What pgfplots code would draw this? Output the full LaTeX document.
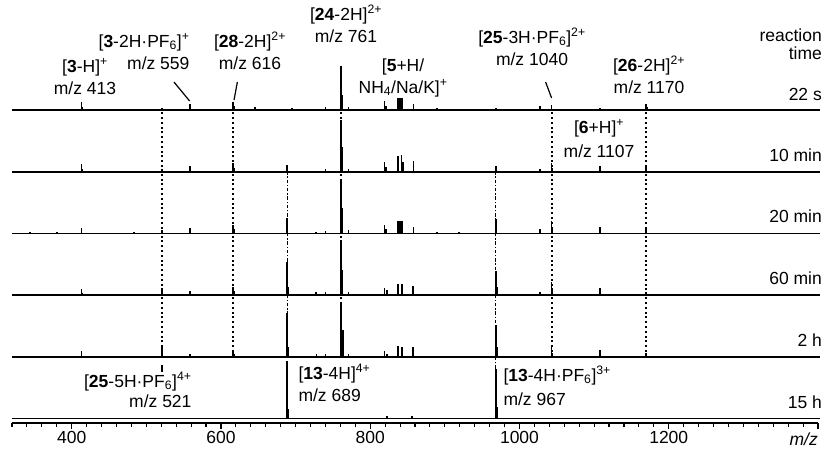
\documentclass[border=0pt]{standalone}
\usepackage{pgfplots}
\pgfplotsset{compat=1.18}
\usepackage{fontspec}
\setmainfont{Liberation Sans}
\begin{document}
\begin{tikzpicture}[font=\fontsize{17.5bp}{20bp}\selectfont]
\pgfplotsset{
  panelbase/.style={scale only axis, width=806bp, height=61.7bp, xmin=320, xmax=1400, ymin=0, ymax=61.7,
    clip=false, anchor=south west},
  panel/.style={panelbase, hide axis},
  pk/.style={ycomb, line width=1.8bp, black, mark=none},
  base/.style={line width=1.7bp, black, mark=none},
  lead/.style={line width=1.2bp, black, mark=none},
  dots/.style={black, mark=none, line width=1.9bp, dash pattern=on 2bp off 2.8bp},
  dashdots/.style={black, mark=none, line width=1.7bp, dash pattern=on 3.4bp off 1.8bp on 1.4bp off 1.8bp},
}
% ---------------- 22 s ----------------
\begin{axis}[panel, at={(12bp,-110bp)}]
\addplot[base] coordinates {(320,0)(1403,0)};
\addplot[pk] coordinates {(380,1)(413,8)(414,3)(521,2)(559,6)(616,8)(617,4)(646,3)(695,2)(711,1)(740,3)(761,44)(762,15)(771,3)(819,9)(821,4)(837,12)(840,12)(843,12)(858,6)(874,1)(890,2)(919,1)(968,2)(1028,4)(1043,5)(1108,2)(1170,6)(1171,3)};
\addplot[lead] coordinates {(537,28)(558,9)};
\addplot[lead] coordinates {(622,28)(617.5,10)};
\addplot[lead] coordinates {(1035,28)(1043,12)};
\node[anchor=base] at (axis cs:417.8,38) {[\textbf{3}-H]\textsuperscript{+}};
\node[anchor=base] at (axis cs:417.8,16) {m/z 413};
\node[anchor=base east] at (axis cs:562.5,63) {[\textbf{3}-2H·PF\textsubscript{6}]\textsuperscript{+}};
\node[anchor=base east] at (axis cs:562.5,41) {m/z 559};
\node[anchor=base] at (axis cs:638.9,63) {[\textbf{28}-2H]\textsuperscript{2+}};
\node[anchor=base] at (axis cs:638.9,41) {m/z 616};
\node[anchor=base] at (axis cs:767.6,90) {[\textbf{24}-2H]\textsuperscript{2+}};
\node[anchor=base] at (axis cs:767.6,68) {m/z 761};
\node[anchor=base] at (axis cs:844,39) {[\textbf{5}+H/};
\node[anchor=base] at (axis cs:844,17) {NH\textsubscript{4}/Na/K]\textsuperscript{+}};
\node[anchor=base] at (axis cs:1016.8,67) {[\textbf{25}-3H·PF\textsubscript{6}]\textsuperscript{2+}};
\node[anchor=base] at (axis cs:1016.8,45) {m/z 1040};
\node[anchor=base] at (axis cs:1173.6,39) {[\textbf{26}-2H]\textsuperscript{2+}};
\node[anchor=base] at (axis cs:1173.6,17) {m/z 1170};
\node[anchor=base east, inner sep=0pt] at (axis cs:1405.4,69) {reaction};
\node[anchor=base east, inner sep=0pt] at (axis cs:1405.4,51) {time};
\node[anchor=base east, inner sep=0pt] at (axis cs:1405.4,10) {22 s};
\end{axis}
% ---------------- 10 min ----------------
\begin{axis}[panel, at={(12bp,-171.7bp)}]
\addplot[dots] coordinates {(521,0)(521,61.7)};
\addplot[dots] coordinates {(616,0)(616,61.7)};
\addplot[dots] coordinates {(761,0)(761,61.7)};
\addplot[dots] coordinates {(1043,0)(1043,61.7)};
\addplot[dots] coordinates {(1170,0)(1170,61.7)};
\addplot[base] coordinates {(320,0)(1403,0)};
\addplot[pk] coordinates {(380,1)(413,8)(414,3)(521,3)(559,6)(616,9)(617,4)(646,1)(688,7)(740,3)(761,52)(762,25)(771,3)(819,10)(821,5)(837,16)(842,17)(844,10)(858,11)(890,1)(968,6)(1028,3)(1043,9)(1044,4)(1108,6)(1170,6)};
\node[anchor=base] at (axis cs:1106.6,38.7) {[\textbf{6}+H]\textsuperscript{+}};
\node[anchor=base] at (axis cs:1106.6,14.7) {m/z 1107};
\node[anchor=base east, inner sep=0pt] at (axis cs:1405.4,10.5) {10 min};
\end{axis}
% ---------------- 20 min ----------------
\begin{axis}[panel, at={(12bp,-233.4bp)}]
\addplot[dots] coordinates {(521,0)(521,61.7)};
\addplot[dots] coordinates {(616,0)(616,61.7)};
\addplot[dots] coordinates {(761,0)(761,61.7)};
\addplot[dots] coordinates {(1043,0)(1043,61.7)};
\addplot[dots] coordinates {(1170,0)(1170,61.7)};
\addplot[dashdots] coordinates {(689,0)(689,61.7)};
\addplot[dashdots] coordinates {(968,0)(968,61.7)};
\addplot[base] coordinates {(320,0)(1403,0)};
\addplot[pk] coordinates {(344,1)(380,1)(413,5)(484,1)(521,3)(559,5)(616,8)(617,4)(688,15)(689,6)(727,1)(740,2)(761,52)(762,25)(771,3)(819,8)(821,4)(837,12)(840,12)(843,12)(858,6)(890,1)(919,1)(968,14)(969,5)(1028,4)(1043,12)(1044,4)(1108,6)(1170,4)};
\node[anchor=base east, inner sep=0pt] at (axis cs:1405.4,10.5) {20 min};
\end{axis}
% ---------------- 60 min ----------------
\begin{axis}[panel, at={(12bp,-295.1bp)}]
\addplot[dots] coordinates {(521,0)(521,61.7)};
\addplot[dots] coordinates {(616,0)(616,61.7)};
\addplot[dots] coordinates {(761,0)(761,61.7)};
\addplot[dots] coordinates {(1043,0)(1043,61.7)};
\addplot[dots] coordinates {(1170,0)(1170,61.7)};
\addplot[dashdots] coordinates {(689,0)(689,61.7)};
\addplot[dashdots] coordinates {(968,0)(968,61.7)};
\addplot[base] coordinates {(320,0)(1403,0)};
\addplot[pk] coordinates {(344,1)(380,1)(413,6)(414,2)(521,7)(548,1)(559,4)(616,8)(617,4)(636,1)(661,1)(689,33)(690,8)(727,3)(740,3)(761,53)(762,25)(771,3)(779,1)(819,7)(822,5)(837,11)(843,11)(857,9)(858,9)(894,1)(919,1)(968,24)(970,8)(1028,3)(1043,13)(1044,5)(1108,7)(1170,3)};
\node[anchor=base east, inner sep=0pt] at (axis cs:1405.4,10.5) {60 min};
\end{axis}
% ---------------- 2 h ----------------
\begin{axis}[panel, at={(12bp,-356.8bp)}]
\addplot[dots] coordinates {(521,0)(521,61.7)};
\addplot[dots] coordinates {(616,0)(616,61.7)};
\addplot[dots] coordinates {(761,0)(761,61.7)};
\addplot[dots] coordinates {(1043,0)(1043,61.7)};
\addplot[dots] coordinates {(1170,0)(1170,61.7)};
\addplot[dashdots] coordinates {(689,0)(689,61.7)};
\addplot[dashdots] coordinates {(968,0)(968,61.7)};
\addplot[base] coordinates {(320,0)(1403,0)};
\addplot[pk] coordinates {(344,1)(380,1)(413,6)(521,10)(559,3)(616,7)(617,3)(689,44)(690,10)(728,3)(740,3)(761,54)(764,27)(771,3)(819,6)(823,3)(837,11)(843,10)(857,10)(919,1)(968,32)(970,10)(1043,11)(1044,4)(1108,7)(1170,4)};
\node[anchor=base east, inner sep=0pt] at (axis cs:1405.4,10.5) {2 h};
\end{axis}
% ---------------- 15 h ----------------
\begin{axis}[panelbase, at={(12bp,-423bp)}, height=66.2bp, ymin=-4.5,
  axis x line*=bottom, axis y line=none, ytick=\empty,
  xtick={400,600,800,1000,1200,1400}, xticklabels={400,600,800,1000,1200,{}},
  minor xtick={320,340,...,1400},
  tick align=outside, major tick length=6bp, minor tick length=4bp,
  every tick/.style={line width=1.1bp, black},
  axis line style={line width=1.7bp, black},
  xticklabel shift=1bp,
  xticklabel style={font=\fontsize{17.5bp}{20bp}\selectfont, inner sep=1bp}]
\addplot[dashdots] coordinates {(968,50)(968,61.7)};
\addplot[lead, line width=1.6bp] coordinates {(521,46.5)(521,53.5)};
\addplot[base] coordinates {(320,0)(1403,0)};
\addplot[pk] coordinates {(689,58)(690,10)(762,1)(823,3)(856,3)(919,1)(968,50)(970,12)(1170,1)};
\node[anchor=base east] at (axis cs:565.2,31.5) {[\textbf{25}-5H·PF\textsubscript{6}]\textsuperscript{4+}};
\node[anchor=base east] at (axis cs:565.2,11.5) {m/z 521};
\node[anchor=base west] at (axis cs:699.2,39.5) {[\textbf{13}-4H]\textsuperscript{4+}};
\node[anchor=base west] at (axis cs:699.2,17.5) {m/z 689};
\node[anchor=base west] at (axis cs:973.9,37.5) {[\textbf{13}-4H·PF\textsubscript{6}]\textsuperscript{3+}};
\node[anchor=base west] at (axis cs:973.9,13.5) {m/z 967};
\node[anchor=base east, inner sep=0pt] at (axis cs:1405.4,10.5) {15 h};
\node[anchor=base east, inner sep=0pt] at (axis cs:1400,-27) {\textit{m/z}};
\end{axis}
\pgfresetboundingbox
\path (0,0) rectangle (826bp,-449bp);
\end{tikzpicture}
\end{document}
